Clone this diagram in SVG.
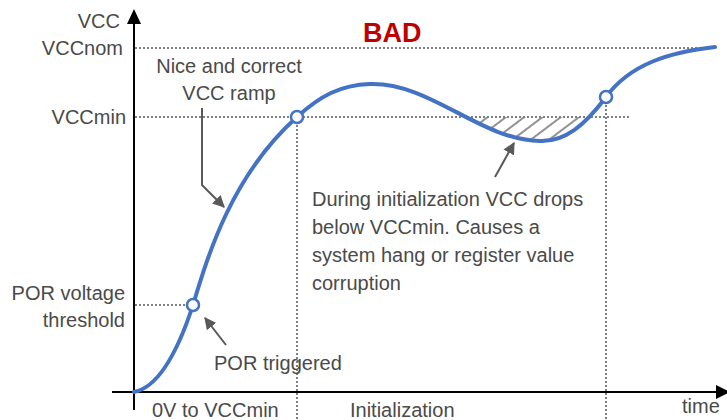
<svg xmlns="http://www.w3.org/2000/svg" width="727" height="420" viewBox="0 0 727 420">
<style>
.t{font-family:"Liberation Sans",Arial,sans-serif;font-size:20px;fill:#4a4a4a}
.e{text-anchor:end}
.m{text-anchor:middle}
.dot{stroke:#555;stroke-width:1.5;stroke-dasharray:2 2;fill:none}
.ax{stroke:#000;stroke-width:2;fill:none}
.ptr{stroke:#595959;stroke-width:2;fill:none}
.mk{fill:#fff;stroke:#4472C4;stroke-width:2.5}
</style>
<defs>
<pattern id="hatch" patternUnits="userSpaceOnUse" width="11" height="10" patternTransform="rotate(53)">
<line x1="2" y1="0" x2="2" y2="10" stroke="#777" stroke-width="1.6"/>
</pattern>
<clipPath id="above">
<path d="M370,84 C430,82 480,140 540,141 C565,142 585,125 606,97 L606,0 L370,0 Z"/>
</clipPath>
<marker id="ah" viewBox="0 0 10 10" refX="9" refY="5" markerWidth="6" markerHeight="6" orient="auto" markerUnits="strokeWidth">
<path d="M0,0 L10,5 L0,10 Z" fill="#595959"/>
</marker>
</defs>

<g id="guides">
<line class="dot" x1="135" y1="48" x2="700" y2="48"/>
<line class="dot" x1="135" y1="117" x2="630" y2="117"/>
<line class="dot" x1="135" y1="305" x2="193" y2="305"/>
<line class="dot" x1="297" y1="117" x2="297" y2="420"/>
<line class="dot" x1="606" y1="97" x2="606" y2="420"/>
</g>

<g id="hatched-area" clip-path="url(#above)">
<rect x="478" y="117" width="130" height="40" fill="url(#hatch)"/>
</g>

<g id="axes">
<line class="ax" x1="134" y1="410" x2="134" y2="22"/>
<path d="M134,9 L141,24 L127,24 Z" fill="#000"/>
<line class="ax" x1="112" y1="392" x2="718" y2="392"/>
<path d="M730,392 L716,385 L716,399 Z" fill="#000"/>
</g>

<g id="curve">
<path d="M134,392 C155,388 175,360 193,305 C208,255 232,175 297,117 C320,96 340,85 370,84 C430,82 480,140 540,141 C565,142 585,125 606,97 C630,64 670,52 715,47" fill="none" stroke="#4472C4" stroke-width="4" stroke-linecap="round"/>
</g>

<g id="points">
<circle id="p-por" class="mk" cx="193" cy="305" r="6"/>
<circle id="p-vccmin" class="mk" cx="297" cy="117" r="6"/>
<circle id="p-recover" class="mk" cx="606" cy="97" r="6"/>
</g>

<g id="connectors">
<polyline class="ptr" points="202,108 202,185 224,207" marker-end="url(#ah)"/>
<line class="ptr" x1="226" y1="345" x2="205" y2="318" marker-end="url(#ah)"/>
<line class="ptr" x1="495" y1="177" x2="514" y2="143" marker-end="url(#ah)"/>
</g>

<g id="labels">
<text class="t e" x="120" y="28">VCC</text>
<text class="t e" x="123" y="55">VCCnom</text>
<text class="t e" x="126" y="124">VCCmin</text>
<text class="t e" x="125" y="300">POR voltage</text>
<text class="t e" x="125" y="327">threshold</text>
<text x="363" y="42" style="font-family:'Liberation Sans',Arial,sans-serif;font-size:27px;font-weight:bold;fill:#C00000">BAD</text>
<text class="t m" x="229" y="73">Nice and correct</text>
<text class="t m" x="229" y="100">VCC ramp</text>
<text class="t" x="312" y="206">During initialization VCC drops</text>
<text class="t" x="312" y="234">below VCCmin. Causes a</text>
<text class="t" x="312" y="262">system hang or register value</text>
<text class="t" x="312" y="290">corruption</text>
<text class="t" x="214" y="370">POR triggered</text>
<text class="t" x="152" y="417">0V to VCCmin</text>
<text class="t" x="350" y="417">Initialization</text>
<text class="t" x="682" y="413">time</text>
</g>
</svg>
